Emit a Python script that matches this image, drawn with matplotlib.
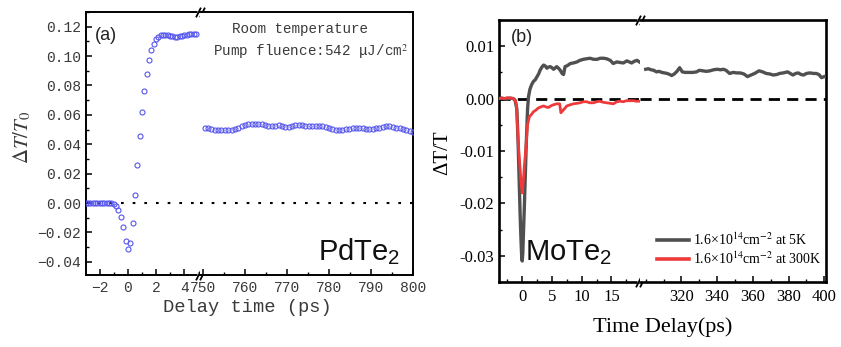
import numpy as np
import matplotlib
matplotlib.use('Agg')
import matplotlib.pyplot as plt
from matplotlib.ticker import MultipleLocator, FixedLocator, FuncFormatter
import matplotlib.transforms as mtransforms
from matplotlib.lines import Line2D

# ---------------- Panel (a): PdTe2 ----------------
a_t_early = np.arange(-18, 30) / 6.0          # ps, step 1/6 ps
a_v_early = [0.0002, 0.0000, 0.0001, -0.0002, 0.0000, 0.0001, -0.0001, 0.0002, 0.0000, 0.0003,
             0.0001, -0.0001, -0.0008, -0.0022, -0.0050, -0.0092, -0.0164, -0.0258, -0.0311, -0.0272,
             -0.0136, 0.0055, 0.0262, 0.0455, 0.0622, 0.0763, 0.0877, 0.0970, 0.1040, 0.1085,
             0.1115, 0.1133, 0.1143, 0.1146, 0.1146, 0.1143, 0.1140, 0.1136, 0.1133, 0.1133,
             0.1136, 0.1140, 0.1142, 0.1145, 0.1148, 0.1150, 0.1150, 0.1147]
a_t_late = 750.4 + 0.8 * np.arange(63)
a_v_late = [0.0512, 0.0508, 0.0503, 0.0500, 0.0498, 0.0497, 0.0497, 0.0498, 0.0500, 0.0505,
            0.0512, 0.0522, 0.0530, 0.0535, 0.0537, 0.0537, 0.0536, 0.0535, 0.0532, 0.0527,
            0.0523, 0.0525, 0.0528, 0.0524, 0.0520, 0.0516, 0.0522, 0.0530, 0.0533, 0.0530,
            0.0527, 0.0524, 0.0524, 0.0526, 0.0527, 0.0524, 0.0518, 0.0510, 0.0503, 0.0498,
            0.0496, 0.0499, 0.0503, 0.0506, 0.0508, 0.0509, 0.0509, 0.0508, 0.0507, 0.0506,
            0.0507, 0.0509, 0.0513, 0.0518, 0.0522, 0.0521, 0.0516, 0.0511, 0.0508, 0.0504,
            0.0500, 0.0493, 0.0484]
a_yticks = [-0.04, -0.02, 0.00, 0.02, 0.04, 0.06, 0.08, 0.10, 0.12]
a_xticks_left = [-2, 0, 2, 4]
a_xticks_right = [750, 760, 770, 780, 790, 800]

# ---------------- Panel (b): MoTe2 ----------------
b_t_5k = [-3.9, -3.5, -3.0, -2.5, -2.0, -1.5, -1.2, -0.9, -0.7, -0.5,
          -0.35, -0.2, -0.1, 0, 0.1, 0.2, 0.35, 0.5, 0.7, 0.9,
          1.05, 1.3, 1.6, 1.9, 2.2, 2.5, 2.8, 3.0, 3.3, 3.6,
          3.9, 4.15, 4.4, 4.7, 5.0, 5.26, 5.5, 5.8, 6.1, 6.4,
          6.7, 6.95, 7.2, 7.6, 8.1, 8.6, 9.2, 9.7, 10.3, 10.8,
          11.4, 12.0, 12.6, 13.1, 13.7, 14.2, 14.8, 15.3, 15.9, 16.4,
          17.0, 17.6, 18.0, 18.4, 18.8, 19.3, 19.7]
b_v_5k = [0.0, 0.0001, 0.0, -0.0001, 0.0001, 0.0, -0.0003, -0.002, -0.008, -0.016,
          -0.022, -0.027, -0.0298, -0.031, -0.0295, -0.026, -0.021, -0.0155, -0.008, -0.002,
          0.0003, 0.0018, 0.0027, 0.0033, 0.0036, 0.0042, 0.0048, 0.0054, 0.0060, 0.0064,
          0.0062, 0.0058, 0.0060, 0.0061, 0.0059, 0.0056, 0.0058, 0.0061, 0.0058, 0.0054,
          0.0048, 0.0046, 0.0061, 0.0063, 0.0067, 0.0068, 0.0070, 0.0073, 0.0075, 0.0076,
          0.0077, 0.0075, 0.0075, 0.0077, 0.0077, 0.0076, 0.0073, 0.0067, 0.0070, 0.0069,
          0.0068, 0.0072, 0.0070, 0.0068, 0.0071, 0.0073, 0.0070]
b_t_5k_late = [300, 301.5, 303, 304.5, 306, 307.5, 309, 310.5, 312, 313.5,
               314.5, 316, 317.5, 319, 320.5, 322, 324, 326.5, 328.5, 330,
               332, 334, 336, 338, 340, 342, 343.5, 345, 347, 349,
               351, 353, 355, 357, 359, 361, 363.5, 365.5, 367.5, 369.5,
               371.5, 373.5, 375, 377, 379.5, 381, 382.5, 384, 385.5, 387,
               388.5, 390, 392, 394, 395.5, 397, 398.5, 400]
b_v_5k_late = [0.0056, 0.0057, 0.0055, 0.0054, 0.0051, 0.0052, 0.0050, 0.0049, 0.0048, 0.0046,
               0.0044, 0.0047, 0.0052, 0.0059, 0.0051, 0.0050, 0.0050, 0.0050, 0.0051, 0.0054,
               0.0053, 0.0052, 0.0053, 0.0055, 0.0056, 0.0055, 0.0056, 0.0054, 0.0048, 0.0050,
               0.0049, 0.0049, 0.0047, 0.0042, 0.0045, 0.0048, 0.0053, 0.0051, 0.0048, 0.0047,
               0.0045, 0.0046, 0.0048, 0.0049, 0.0051, 0.0048, 0.0045, 0.0048, 0.0049, 0.0046,
               0.0045, 0.0048, 0.0049, 0.0048, 0.0048, 0.0046, 0.0040, 0.0042]
b_t_300k = [-3.9, -3.5, -3.0, -2.5, -2.0, -1.5, -1.2, -1.0, -0.9, -0.67,
            -0.5, -0.35, -0.2, 0, 0.2, 0.35, 0.5, 0.67, 0.9, 1.2,
            1.5, 1.9, 2.3, 2.7, 3.1, 3.6, 4.0, 4.4, 4.8, 5.2,
            5.8, 6.3, 6.5, 6.9, 7.5, 8.0, 8.6, 9.2, 9.7, 10.3,
            10.8, 11.4, 12.0, 12.5, 13.0, 13.6, 14.2, 14.8, 15.3, 15.9,
            16.4, 17.0, 17.5, 18.1, 18.7, 19.2, 19.7]
b_v_300k = [0.0, 0.0001, 0.0, 0.0002, 0.0001, 0.0, -0.0003, -0.001, -0.0027, -0.0085,
            -0.011, -0.0135, -0.016, -0.018, -0.0155, -0.013, -0.011, -0.0085, -0.005, -0.0035,
            -0.0031, -0.0025, -0.0022, -0.0018, -0.0016, -0.0014, -0.0016, -0.0017, -0.0014, -0.0012,
            -0.001, -0.001, -0.0027, -0.0022, -0.0014, -0.0012, -0.001, -0.0009, -0.0008, -0.0006,
            -0.0006, -0.0008, -0.0008, -0.0006, -0.0005, -0.0007, -0.0008, -0.0009, -0.001, -0.0006,
            -0.0005, -0.0006, -0.0004, -0.0004, -0.0004, -0.0005, -0.0005]
b_yticks = [-0.03, -0.02, -0.01, 0.00, 0.01]
b_xticks_left = [0, 5, 10, 15]
b_xticks_right = [320, 340, 360, 380, 400]
b_labels = ['1.6×10$^{14}$cm$^{-2}$ at 5K', '1.6×10$^{14}$cm$^{-2}$ at 300K']

W, H = 841, 347
fig = plt.figure(figsize=(W / 100, H / 100), dpi=100)


def fax(l, r, t, b):
    return fig.add_axes([l / W, 1 - b / H, (r - l) / W, (b - t) / H])


def style(ax, lw):
    for s in ax.spines.values():
        s.set_linewidth(lw)
    ax.tick_params(which='both', direction='in', top=False, right=False)
    ax.tick_params(which='major', length=4.5, width=1.1)
    ax.tick_params(which='minor', length=2.5, width=1.0)


def brk(ax, xa):
    for y in (0, 1):
        ax.plot([xa], [y], marker='s', ms=5, mfc='white', mec='none',
                transform=ax.transAxes, clip_on=False, zorder=20)
        for dx in (-2.3, 2.3):
            tr = mtransforms.offset_copy(ax.transAxes, fig=fig, x=dx, y=0, units='dots')
            ax.plot([xa], [y], marker=[(-1, -2), (1, 2)], ms=7, mew=1.3, color='k',
                    transform=tr, clip_on=False, zorder=21)


# ---- panel (a)
mono = 'Liberation Mono'
gcol = '#3a3a3a'
axl = fax(86, 200, 12, 275)
axr = fax(200, 413, 12, 275)
for ax in (axl, axr):
    style(ax, 1.4)
    ax.set_ylim(-0.049, 0.130)
    ax.axhline(0, color='k', lw=1.5, ls=(0, (1.3, 4.3)), zorder=1)
axl.set_xlim(-2.97, 5.12)
axr.set_xlim(749.3, 800)
axl.spines['right'].set_visible(False)
axr.spines['left'].set_visible(False)
axr.tick_params(which='both', left=False, labelleft=False)
mk = dict(ls='none', marker='o', ms=3.6, mfc='none', mec='#5555ee', mew=0.8, zorder=3)
axl.plot(a_t_early, a_v_early, **mk)
axr.plot(a_t_late, a_v_late, **mk)
axl.yaxis.set_major_locator(FixedLocator(a_yticks))
axl.yaxis.set_minor_locator(MultipleLocator(0.01))
axl.yaxis.set_major_formatter(FuncFormatter(lambda v, p: f"{v:.2f}".replace('-', '\u2212')))
axl.xaxis.set_major_locator(FixedLocator(a_xticks_left))
axl.xaxis.set_minor_locator(MultipleLocator(1))
axl.xaxis.set_major_formatter(FuncFormatter(lambda v, p: f"{v:.0f}".replace('-', '\u2212')))
axr.xaxis.set_major_locator(FixedLocator(a_xticks_right))
axr.xaxis.set_minor_locator(MultipleLocator(5))
for ax in (axl, axr):
    for lab in ax.get_xticklabels() + ax.get_yticklabels():
        lab.set_fontfamily(mono)
        lab.set_fontsize(10.5)
        lab.set_color(gcol)
    ax.tick_params(axis='x', pad=4)
brk(axl, 1.0)
fig.text(247 / W, 1 - 307 / H, 'Delay time (ps)', family=mono, fontsize=13.5,
         color=gcol, ha='center', va='center')
fig.text(22 / W, 1 - 137 / H, r'$\Delta T/T_0$', math_fontfamily='stix', fontsize=15,
         color=gcol, ha='center', va='center', rotation=90)
fig.text(106 / W, 1 - 35 / H, '(a)', family='Liberation Sans', fontsize=13, color='#222222',
         ha='center', va='center')
fig.text(300 / W, 1 - 29 / H, 'Room temperature', family=mono, fontsize=10.3, color=gcol,
         ha='center', va='center')
fig.text(408 / W, 1 - 52 / H, 'Pump fluence:542 μJ/cm$^2$', family=mono, fontsize=10.3,
         color=gcol, ha='right', va='center', math_fontfamily='stix')
fig.text(359 / W, 1 - 252 / H, r'PdTe$_\mathregular{2}$', family='Liberation Sans',
         fontsize=21, color='#111111', ha='center', va='center')

# ---- panel (b)
serif = 'Liberation Serif'
bl = fax(499, 640, 20, 282)
br = fax(640, 826, 20, 282)
for ax in (bl, br):
    style(ax, 1.9)
    ax.set_ylim(-0.035, 0.015)
    ax.axhline(0, color='k', lw=2.0, ls=(0, (4, 2.6)), zorder=1)
bl.set_xlim(-3.9, 19.8)
br.set_xlim(296.8, 401)
bl.spines['right'].set_visible(False)
br.spines['left'].set_visible(False)
br.tick_params(which='both', left=False, labelleft=False)
bl.plot(b_t_5k, b_v_5k, color='#505050', lw=2.4, zorder=3)
bl.plot(b_t_300k, b_v_300k, color='#ee3a3a', lw=2.0, zorder=4)
br.plot(b_t_5k_late, b_v_5k_late, color='#505050', lw=2.4, zorder=3)
bl.yaxis.set_major_locator(FixedLocator(b_yticks))
bl.yaxis.set_minor_locator(MultipleLocator(0.005))
bl.yaxis.set_major_formatter(FuncFormatter(lambda v, p: f"{v:.2f}" if abs(v) > 1e-9 else "0.00"))
bl.xaxis.set_major_locator(FixedLocator(b_xticks_left))
bl.xaxis.set_minor_locator(MultipleLocator(2.5))
br.xaxis.set_major_locator(FixedLocator(b_xticks_right))
br.xaxis.set_minor_locator(FixedLocator([300, 310, 330, 350, 370, 390]))
for ax in (bl, br):
    for lab in ax.get_xticklabels() + ax.get_yticklabels():
        lab.set_fontfamily(serif)
        lab.set_fontsize(12)
    ax.tick_params(axis='x', pad=5)
brk(bl, 1.0)
fig.text(663 / W, 1 - 327 / H, 'Time Delay(ps)', family=serif, fontsize=16,
         ha='center', va='center')
fig.text(443 / W, 1 - 153 / H, 'ΔT/T', family=serif, fontsize=15, ha='center', va='center',
         rotation=90)
fig.text(522 / W, 1 - 38 / H, '(b)', family='Liberation Sans', fontsize=13, color='#222222',
         ha='center', va='center')
fig.text(568 / W, 1 - 253 / H, r'MoTe$_\mathregular{2}$', family='Liberation Sans',
         fontsize=21, color='#111111', ha='center', va='center')
handles = [Line2D([], [], color='#505050', lw=2.6), Line2D([], [], color='#ee3a3a', lw=2.6)]
leg = fig.legend(handles, b_labels, loc='center left', bbox_to_anchor=(657 / W, 1 - 249 / H),
                 frameon=False, prop={'family': serif, 'size': 10}, handlelength=2.3,
                 handletextpad=0.3, labelspacing=0.2, borderpad=0, borderaxespad=0)
for t in leg.get_texts():
    t.set_math_fontfamily('stix')

fig.savefig('out.png', dpi=100)
